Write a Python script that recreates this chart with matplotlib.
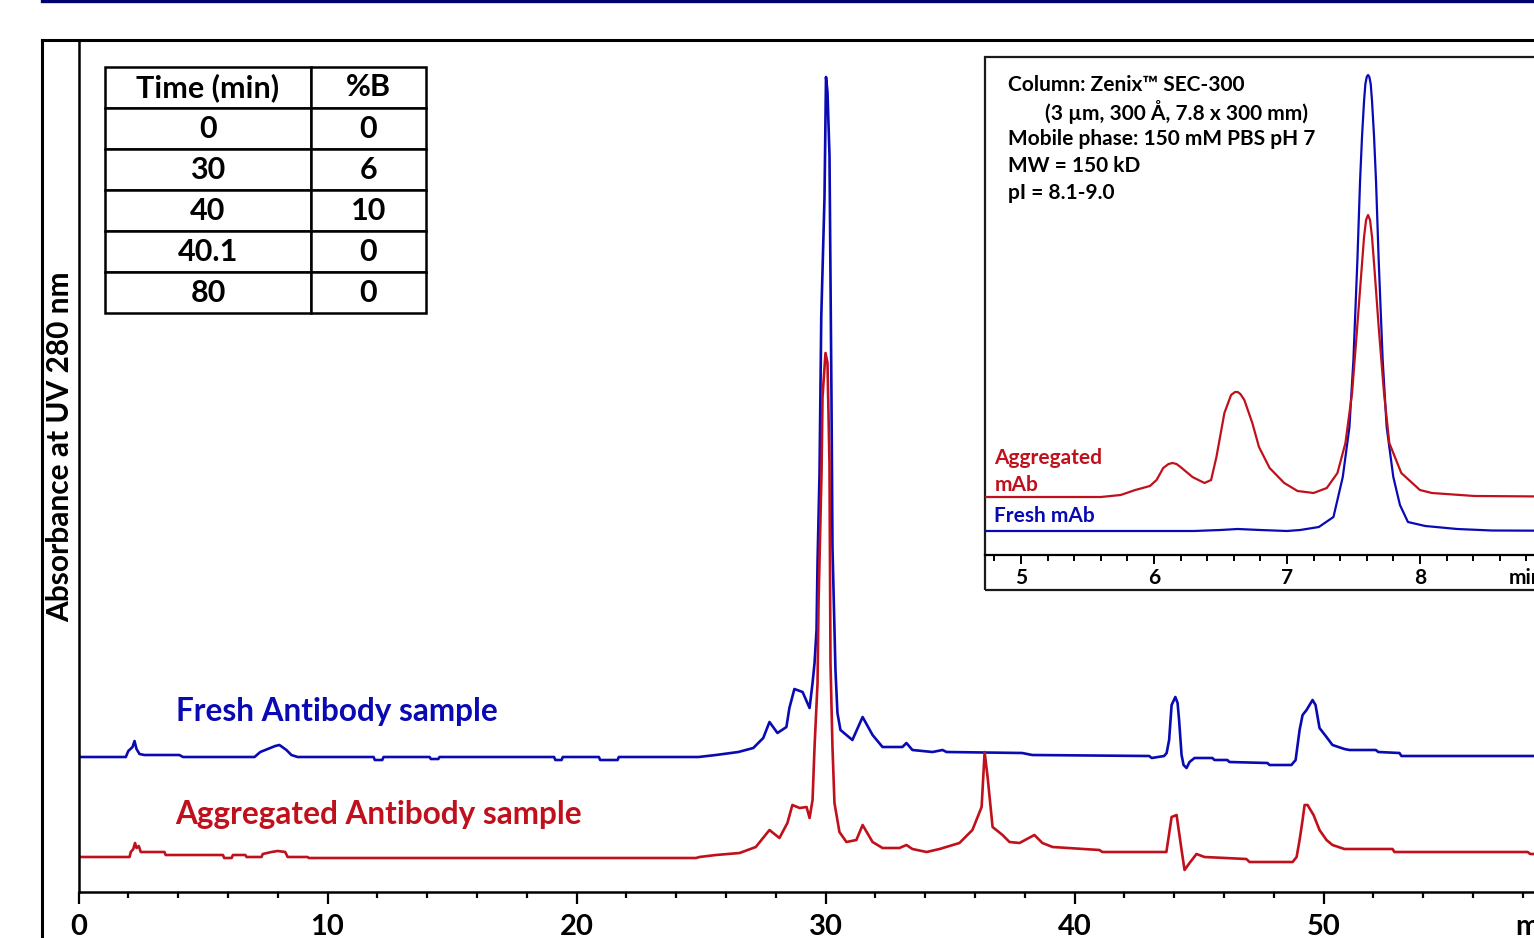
import matplotlib

matplotlib.use("Agg")

import matplotlib.pyplot as plt
from matplotlib.lines import Line2D
from matplotlib.patches import Rectangle
from matplotlib.ticker import MultipleLocator

plt.rcParams["font.family"] = ["Lato", "DejaVu Sans"]
plt.rcParams["font.weight"] = "bold"

BLUE = "#0a0ab4"
RED = "#c0101c"

# main chromatogram: signal above each trace's own baseline (arbitrary absorbance units)
fresh_time = [0.0, 1.9, 2.0, 2.17, 2.25, 2.33, 2.45, 2.65, 4.05, 4.2, 7.07, 7.3, 7.6, 7.9, 8.07, 8.35,
              8.55, 8.8, 11.85, 11.9, 12.2, 12.25, 14.1, 14.15, 14.45, 14.5, 19.1, 19.15, 19.4, 19.45,
              20.9, 20.95, 21.65, 21.7, 24.9, 25.6, 26.5, 27.1, 27.5, 27.75, 28.07, 28.43, 28.55, 28.75,
              29.08, 29.36, 29.48, 29.56, 29.64, 29.68, 29.76, 29.83, 29.96, 30.02, 30.08, 30.16, 30.24,
              30.28, 30.4, 30.48, 30.6, 30.84, 31.08, 31.49, 31.89, 32.29, 33.09, 33.25, 33.49, 34.3,
              34.7, 34.86, 37.9, 38.3, 43.0, 43.1, 43.6, 43.7, 43.8, 43.9, 44.05, 44.14, 44.2, 44.3,
              44.38, 44.5, 44.62, 44.82, 45.54, 45.62, 46.14, 46.22, 47.75, 47.83, 48.71, 48.88, 49.04,
              49.16, 49.32, 49.56, 49.68, 49.84, 50.12, 50.36, 50.84, 51.04, 52.1, 52.2, 53.05, 53.13, 62.0]
fresh_signal = [0, 0, 0.6, 1.0, 1.6, 0.8, 0.3, 0.2, 0.2, 0, 0, 0.5, 0.8, 1.1, 1.2, 0.7,
                0.2, 0, 0, -0.3, -0.3, 0, 0, -0.2, -0.2, 0, 0, -0.3, -0.3, 0,
                0, -0.3, -0.3, 0, 0, 0.2, 0.5, 0.9, 1.9, 3.5, 2.4, 3.0, 4.9, 6.8,
                6.5, 4.9, 7.4, 9.4, 12.7, 19.4, 28.4, 44.0, 56.0, 68.0, 66.5, 60.2, 36.0,
                21.0, 8.7, 4.4, 2.7, 2.2, 1.7, 4.0, 2.2, 1.0, 1.0, 1.4, 0.7, 0.5,
                0.7, 0.5, 0.4, 0.2, 0.1, -0.1, 0.1, 0.4, 1.7, 5.2, 6.0, 5.4, 3.7, 0.2,
                -0.8, -1.1, -0.5, -0.1, -0.1, -0.3, -0.3, -0.5, -0.6, -0.8, -0.8, -0.3, 2.7,
                4.2, 4.7, 5.7, 5.2, 2.9, 2.0, 1.2, 0.8, 0.7, 0.7, 0.5, 0.4, 0.1, 0.1]

agg_time = [0.0, 2.05, 2.1, 2.2, 2.27, 2.33, 2.42, 2.5, 3.45, 3.5, 5.8, 5.85, 6.15, 6.2, 6.7, 6.75,
            7.35, 7.4, 7.75, 8.0, 8.3, 8.4, 9.2, 9.25, 24.8, 24.94, 25.6, 26.55, 27.2, 27.75, 28.15,
            28.47, 28.67, 28.96, 29.24, 29.36, 29.48, 29.56, 29.68, 29.72, 29.84, 29.88, 30.0, 30.08,
            30.16, 30.2, 30.28, 30.36, 30.56, 30.84, 31.24, 31.49, 31.89, 32.29, 32.97, 33.25, 33.49,
            34.06, 34.58, 35.38, 35.9, 36.27, 36.39, 36.51, 36.71, 37.11, 37.39, 37.79, 38.39, 38.71,
            39.12, 41.0, 41.12, 43.69, 43.9, 44.1, 44.3, 44.42, 44.62, 44.9, 45.22, 46.9, 47.03, 48.76,
            48.92, 49.04, 49.16, 49.24, 49.36, 49.6, 49.84, 50.12, 50.36, 50.84, 52.77, 52.85, 58.2,
            58.3, 62.0]
agg_signal = [0, 0, 0.5, 0.8, 1.4, 0.9, 1.1, 0.5, 0.5, 0.2, 0.2, -0.1, -0.1, 0.2, 0.2, 0.0,
              0.0, 0.3, 0.5, 0.6, 0.5, 0.0, 0.0, -0.1, -0.1, 0, 0.2, 0.4, 1.0, 2.7, 1.9,
              3.4, 5.2, 4.9, 5.0, 3.9, 5.7, 11.0, 17.4, 25.4, 38.4, 46.0, 50.4, 49.4,
              39.4, 19.4, 11.0, 5.4, 2.5, 1.5, 1.7, 3.2, 1.5, 0.9, 0.9, 1.2, 0.8,
              0.5, 0.8, 1.4, 2.7, 5.0, 10.5, 8.0, 3.0, 2.2, 1.5, 1.4, 2.2, 1.4,
              1.0, 0.7, 0.5, 0.5, 4.0, 4.2, 0.7, -1.3, -0.6, 0.3, 0.0, -0.2, -0.5, -0.5,
              0.0, 1.7, 3.7, 5.2, 5.2, 4.2, 2.7, 1.7, 1.2, 0.8, 0.8, 0.5, 0.5,
              0.3, 0.3]

# inset (SEC-300 run)
inset_fresh_time = [4.73, 6.3, 6.5, 6.63, 6.8, 7.0, 7.1, 7.24, 7.35, 7.42, 7.47, 7.5, 7.53, 7.55, 7.565,
                    7.58, 7.59, 7.6, 7.61, 7.62, 7.63, 7.64, 7.655, 7.67, 7.69, 7.72, 7.75, 7.8, 7.85,
                    7.91, 8.04, 8.28, 8.54, 9.5]
inset_fresh_signal = [0, 0, 0.1, 0.2, 0.1, 0, 0.1, 0.4, 1.4, 5.4, 10.4, 17.1, 27.1, 35.0, 39.5,
                      43.0, 44.7, 45.4, 45.6, 45.4, 44.7, 43.0, 39.5, 35.0, 27.1, 17.1, 10.4, 5.4, 2.6,
                      0.9, 0.5, 0.2, 0.05, 0]
inset_agg_time = [4.73, 5.6, 5.75, 5.86, 5.97, 6.02, 6.07, 6.11, 6.14, 6.17, 6.2, 6.29, 6.38, 6.43,
                  6.47, 6.53, 6.58, 6.61, 6.63, 6.65, 6.68, 6.74, 6.79, 6.87, 6.98, 7.08, 7.2, 7.3,
                  7.38, 7.44, 7.49, 7.52, 7.56, 7.58, 7.595, 7.61, 7.625, 7.64, 7.66, 7.69, 7.73,
                  7.77, 7.86, 8.0, 8.09, 8.41, 9.5]
inset_agg_signal = [0, 0, 0.2, 0.7, 1.1, 1.7, 2.9, 3.3, 3.4, 3.3, 3.0, 2.0, 1.4, 1.7,
                    4.0, 8.4, 10.2, 10.5, 10.5, 10.3, 9.7, 7.4, 5.0, 2.9, 1.4, 0.6, 0.4, 0.9,
                    2.4, 5.4, 10.4, 15.5, 22.5, 26.0, 27.7, 28.2, 27.7, 26.0, 22.5, 17.0, 10.4,
                    5.4, 2.4, 0.7, 0.4, 0.1, 0]

gradient_header = ["Time (min)", "%B"]
gradient_time = ["0", "30", "40", "40.1", "80"]
gradient_b = ["0", "6", "10", "0", "0"]

conditions = ["Column: Zenix\u2122 SEC-300",
              "(3 \u00b5m, 300 \u00c5, 7.8 x 300 mm)",
              "Mobile phase: 150 mM PBS pH 7",
              "MW = 150 kD",
              "pI = 8.1-9.0"]

main_xticks = [0, 10, 20, 30, 40, 50]
inset_xticks = [5, 6, 7, 8]

W, H = 1534, 938
fig = plt.figure(figsize=(W / 100, H / 100), dpi=100)


def box(x0, y0, x1, y1):
    # pixel box (top-left origin) -> figure fraction rect
    return [x0 / W, 1 - y1 / H, (x1 - x0) / W, (y1 - y0) / H]


# page decorations
fig.add_artist(Line2D([42 / W, 1], [1 - 1.5 / H] * 2, lw=2.4, color="#00006e"))
fig.add_artist(Line2D([42 / W, 1], [1 - 40 / H] * 2, lw=2.2, color="black"))
fig.add_artist(Line2D([42 / W] * 2, [0, 1 - 40 / H], lw=2.2, color="black"))

# main chromatogram
ax = fig.add_axes(box(78.5, 40, 78.5 + 62 * 24.9, 892))
ax.set_xlim(0, 62)
ax.set_ylim(0, 85.2)
fresh_base, agg_base = 13.5, 3.5
ax.plot(fresh_time, [v + fresh_base for v in fresh_signal], color=BLUE, lw=1.9)
ax.plot(agg_time, [v + agg_base for v in agg_signal], color=RED, lw=1.9)
for side in ["top", "right"]:
    ax.spines[side].set_visible(False)
for side in ["left", "bottom"]:
    ax.spines[side].set_linewidth(1.8)
ax.set_yticks([])
ax.set_xticks(main_xticks)
ax.xaxis.set_minor_locator(MultipleLocator(2))
ax.tick_params(axis="x", which="major", length=8.5, width=1.6, labelsize=21, pad=7)
ax.tick_params(axis="x", which="minor", length=4.5, width=1.6)
ax.annotate("min", xy=(57.7, 0), xycoords=("data", "axes fraction"), xytext=(0, -15.5),
            textcoords="offset points", ha="left", va="top", fontsize=21)
ax.text(3.9, 18.1, "Fresh Antibody sample", color=BLUE, fontsize=22.7, va="center")
ax.text(3.9, 7.8, "Aggregated Antibody sample", color=RED, fontsize=22.7, va="center")
fig.text(60 / W, 1 - 447 / H, "Absorbance at UV 280 nm", rotation=90, ha="center", va="center",
         fontsize=21.5)

# gradient table
tax = fig.add_axes(box(105, 67, 426, 313))
tax.axis("off")
tbl = tax.table(cellText=[list(r) for r in zip(gradient_time, gradient_b)], colLabels=gradient_header,
                cellLoc="center", bbox=[0, 0, 1, 1], colWidths=[206 / 321, 115 / 321])
tbl.auto_set_font_size(False)
tbl.set_fontsize(22)
for cell in tbl.get_celld().values():
    cell.set_linewidth(1.8)
    cell.get_text().set_fontweight("bold")

# inset
ax_in = fig.add_axes(box(985, 57, 985 + (9.5 - 4.73) * 133, 590))
ax_in.set_xlim(4.73, 9.5)
ax_in.set_ylim(0, 53.3)
in_fresh_base, in_agg_base = 5.9, 9.3
ax_in.plot(inset_fresh_time, [v + in_fresh_base for v in inset_fresh_signal], color=BLUE, lw=1.6)
ax_in.plot(inset_agg_time, [v + in_agg_base for v in inset_agg_signal], color=RED, lw=1.6)
for side in ["top", "right", "left"]:
    ax_in.spines[side].set_visible(False)
ax_in.spines["bottom"].set_position(("data", 3.5))
ax_in.spines["bottom"].set_linewidth(1.6)
ax_in.add_patch(Rectangle((0, 0), 1, 1, transform=ax_in.transAxes, fill=False, lw=1.6,
                          edgecolor="#1a1a1a", clip_on=False))
ax_in.set_yticks([])
ax_in.set_xticks(inset_xticks)
ax_in.xaxis.set_minor_locator(MultipleLocator(0.2))
ax_in.tick_params(axis="x", which="major", length=6.5, width=1.4, labelsize=15, pad=3)
ax_in.tick_params(axis="x", which="minor", length=4, width=1.4)
ax_in.annotate("min", xy=(8.67, 3.5), xycoords="data", xytext=(0, -9.5),
               textcoords="offset points", ha="left", va="top", fontsize=15)
ax_in.text(4.80, 11.85, "Aggregated\nmAb", color=RED, fontsize=15, va="center", linespacing=1.4)
ax_in.text(4.80, 7.4, "Fresh mAb", color=BLUE, fontsize=15, va="center")
for i, line in enumerate(conditions):
    x0 = 1045 if i == 1 else 1008
    fig.text(x0 / W, 1 - (85 + 27 * i) / H, line, fontsize=15, va="center")

fig.savefig("out.png", dpi=100)
plt.close(fig)
